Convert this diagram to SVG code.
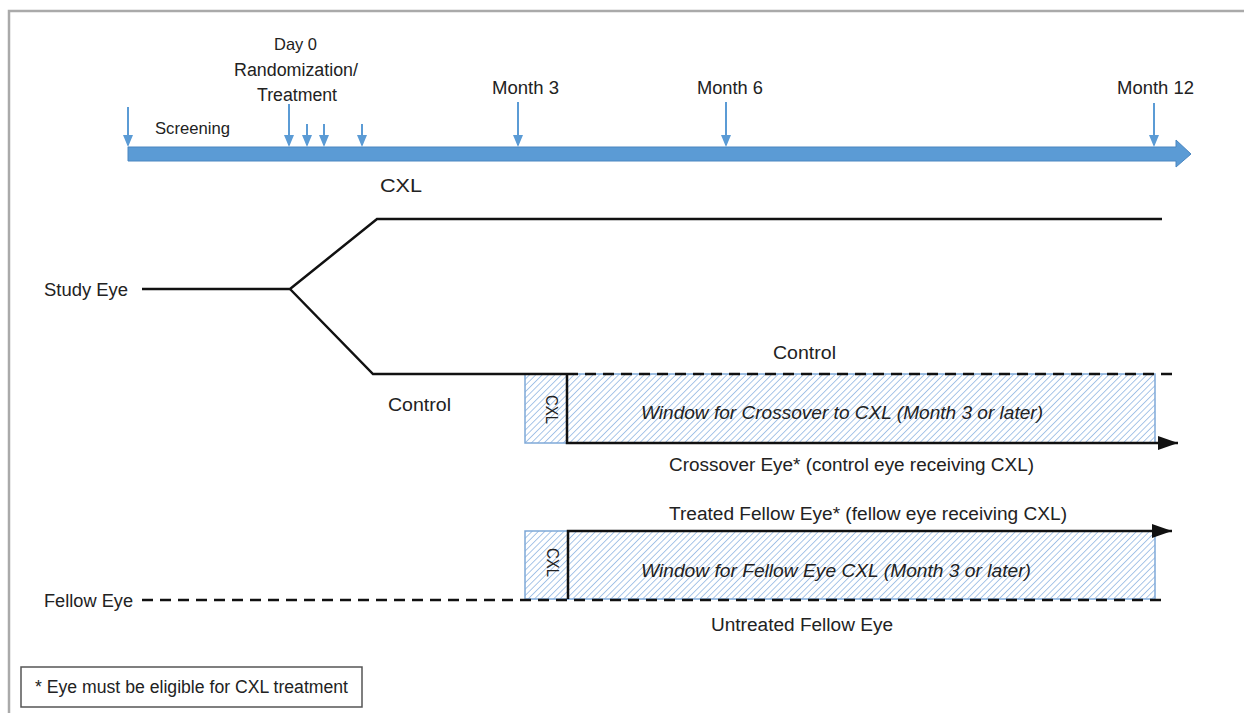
<svg xmlns="http://www.w3.org/2000/svg" width="1244" height="713" viewBox="0 0 1244 713">
<defs>
<style>
text{font-family:"Liberation Sans",Arial,sans-serif;font-size:18px;fill:#222}
.i{font-style:italic}
.s{font-size:16.5px}
.v{font-size:16px}
.ln{stroke:#111;stroke-width:2.5;fill:none}
.dash{stroke:#111;stroke-width:2.5;fill:none;stroke-dasharray:11 7}
.tick{stroke:#5B9BD5;stroke-width:2;fill:none}
.hb{fill:url(#hatch);stroke:#7FA9D8;stroke-width:1.5}
</style>
<pattern id="hatch" patternUnits="userSpaceOnUse" width="4.5" height="4.5" patternTransform="rotate(45)">
<rect width="4.5" height="4.5" fill="#fff"/>
<line x1="0" y1="0" x2="0" y2="4.5" stroke="#8DB4E2" stroke-width="1.5"/>
</pattern>
<marker id="ta" markerWidth="12" markerHeight="10" refX="10" refY="5" orient="auto" markerUnits="userSpaceOnUse">
<path d="M0,0 L12,5 L0,10 Z" fill="#5B9BD5"/>
</marker>
<marker id="ba" markerWidth="20" markerHeight="14" refX="20" refY="7" orient="auto" markerUnits="userSpaceOnUse">
<path d="M0,0 L20,7 L0,14 Z" fill="#111"/>
</marker>
</defs>
<rect width="1244" height="713" fill="#fff"/>
<path d="M9,713 V11 H1244" fill="none" stroke="#aaa" stroke-width="2.5"/>

<g id="timeline">
<path d="M128,147 H1176 V140 L1191,154 L1176,167 V161 H128 Z" fill="#5B9BD5" stroke="#4A86C0" stroke-width="1"/>
<line class="tick" x1="128" y1="107" x2="128" y2="145" marker-end="url(#ta)"/>
<line class="tick" x1="289" y1="104" x2="289" y2="145" marker-end="url(#ta)"/>
<line class="tick" x1="307" y1="124" x2="307" y2="145" marker-end="url(#ta)"/>
<line class="tick" x1="324" y1="124" x2="324" y2="145" marker-end="url(#ta)"/>
<line class="tick" x1="362" y1="124" x2="362" y2="145" marker-end="url(#ta)"/>
<line class="tick" x1="518" y1="102" x2="518" y2="145" marker-end="url(#ta)"/>
<line class="tick" x1="726" y1="102" x2="726" y2="145" marker-end="url(#ta)"/>
<line class="tick" x1="1154" y1="103" x2="1154" y2="145" marker-end="url(#ta)"/>
<text class="s" x="155" y="134" textLength="75" lengthAdjust="spacingAndGlyphs">Screening</text>
<text class="s" x="274" y="50" textLength="43" lengthAdjust="spacingAndGlyphs">Day 0</text>
<text x="234" y="76" textLength="124" lengthAdjust="spacingAndGlyphs">Randomization/</text>
<text x="257" y="101" textLength="80" lengthAdjust="spacingAndGlyphs">Treatment</text>
<text x="492" y="94" textLength="67" lengthAdjust="spacingAndGlyphs">Month 3</text>
<text x="697" y="94" textLength="66" lengthAdjust="spacingAndGlyphs">Month 6</text>
<text x="1117" y="94" textLength="77" lengthAdjust="spacingAndGlyphs">Month 12</text>
</g>

<g id="crossover-window">
<rect class="hb" x="525" y="374" width="42" height="69"/>
<rect class="hb" x="567" y="374" width="588" height="69"/>
<text class="v" transform="translate(551,395) rotate(90)" dy="5.5" textLength="29" lengthAdjust="spacingAndGlyphs">CXL</text>
<text class="i" x="641" y="419" textLength="402" lengthAdjust="spacingAndGlyphs">Window for Crossover to CXL (Month 3 or later)</text>
</g>

<g id="fellow-window">
<rect class="hb" x="525" y="531" width="43" height="68"/>
<rect class="hb" x="568" y="531" width="587" height="68"/>
<text class="v" transform="translate(552,548) rotate(90)" dy="5.5" textLength="29" lengthAdjust="spacingAndGlyphs">CXL</text>
<text class="i" x="641" y="577" textLength="390" lengthAdjust="spacingAndGlyphs">Window for Fellow Eye CXL (Month 3 or later)</text>
</g>

<g id="connectors">
<path class="ln" d="M142,289 H290 L377,219 H1162"/>
<path class="ln" d="M290,289 L373,374 H567"/>
<path class="dash" d="M567,374 H1172"/>
<path class="ln" d="M567,374 V443 H1178" marker-end="url(#ba)"/>
<path class="ln" d="M568,599 V531 H1172" marker-end="url(#ba)"/>
<path class="dash" d="M142,600 H1162"/>
</g>

<g id="labels">
<text x="44" y="296" textLength="84" lengthAdjust="spacingAndGlyphs">Study Eye</text>
<text x="44" y="607" textLength="89" lengthAdjust="spacingAndGlyphs">Fellow Eye</text>
<text x="380" y="192" style="font-size:19px" textLength="42" lengthAdjust="spacingAndGlyphs">CXL</text>
<text x="773" y="359" textLength="63" lengthAdjust="spacingAndGlyphs">Control</text>
<text x="388" y="411" textLength="63" lengthAdjust="spacingAndGlyphs">Control</text>
<text x="669" y="471" textLength="365" lengthAdjust="spacingAndGlyphs">Crossover Eye* (control eye receiving CXL)</text>
<text x="669" y="520" textLength="398" lengthAdjust="spacingAndGlyphs">Treated Fellow Eye* (fellow eye receiving CXL)</text>
<text x="711" y="631" textLength="182" lengthAdjust="spacingAndGlyphs">Untreated Fellow Eye</text>
</g>

<g id="note">
<rect x="21" y="667" width="341" height="40" fill="#fff" stroke="#555" stroke-width="1.5"/>
<text x="35" y="693" textLength="313" lengthAdjust="spacingAndGlyphs">* Eye must be eligible for CXL treatment</text>
</g>
</svg>
